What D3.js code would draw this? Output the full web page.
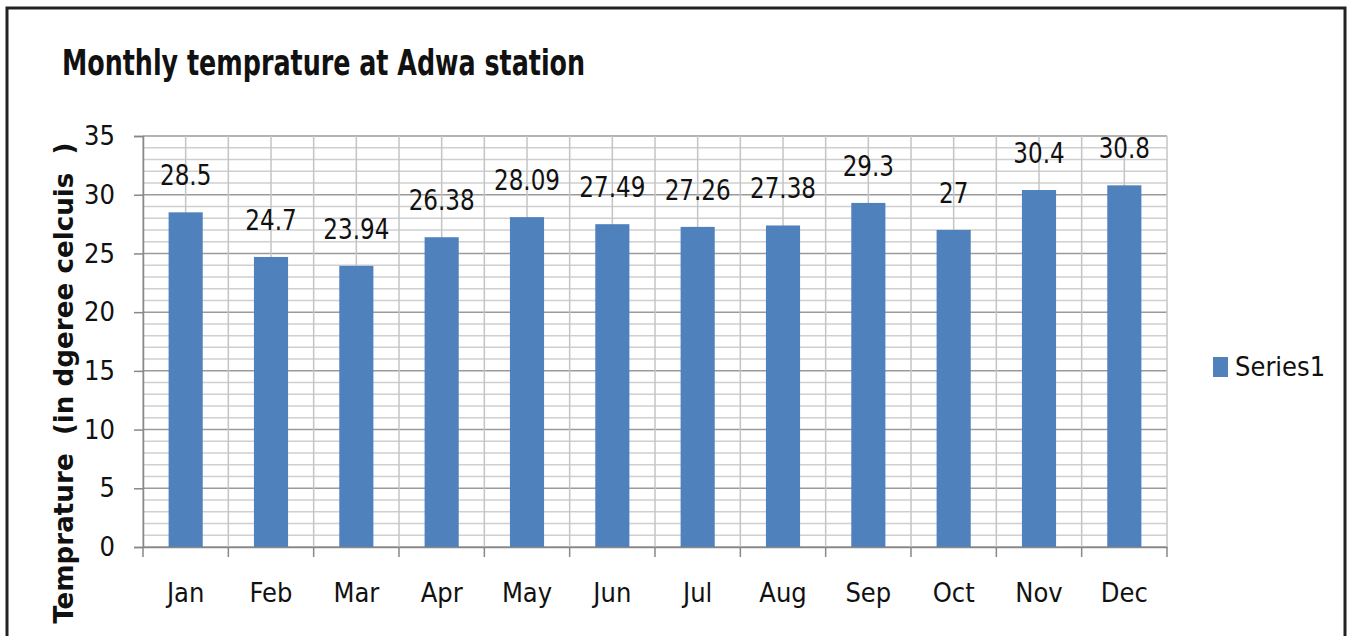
<!DOCTYPE html>
<html>
<head>
<meta charset="utf-8">
<script src="https://cdn.jsdelivr.net/npm/d3@7"></script>
<style>
  body { margin: 0; background: #fff; }
  text { font-family: "Liberation Sans Narrow", "DejaVu Sans Condensed", "Roboto", sans-serif; fill: #111; }
</style>
</head>
<body>
<div id="chart"></div>
<script>
// chart data
const months = ["Jan", "Feb", "Mar", "Apr", "May", "Jun", "Jul", "Aug", "Sep", "Oct", "Nov", "Dec"];
const temps = [28.5, 24.7, 23.94, 26.38, 28.09, 27.49, 27.26, 27.38, 29.3, 27, 30.4, 30.8];
const labels = ["28.5", "24.7", "23.94", "26.38", "28.09", "27.49", "27.26", "27.38", "29.3", "27", "30.4", "30.8"];
const yTicks = [0, 5, 10, 15, 20, 25, 30, 35];
const seriesName = "Series1";

const W = 1349, H = 636;
const margin = { top: 136, right: 182, bottom: 89, left: 143 },
    width = W - margin.left - margin.right,
    height = H - margin.top - margin.bottom;

const root = d3.select("#chart")
    .append("svg")
    .attr("width", W)
    .attr("height", H);

// outer frame
root.append("rect")
    .attr("x", 7).attr("y", 8)
    .attr("width", 1338).attr("height", 640)
    .attr("fill", "none")
    .attr("stroke", "#222")
    .attr("stroke-width", 3);

root.append("text")
    .attr("transform", "translate(62,75) scale(0.91,1.15)")
    .style("font-size", "31px")
    .style("font-weight", "bold")
    .text("Monthly temprature at Adwa station");

const svg = root.append("g")
    .attr("transform", `translate(${margin.left},${margin.top})`);

const x = d3.scaleBand()
    .domain(months)
    .range([0, width]);

const y = d3.scaleLinear()
    .domain([0, 35])
    .range([height, 0]);

// minor horizontal grid, every 1 unit
svg.append("g")
    .selectAll("line")
    .data(d3.range(0, 36))
    .enter().append("line")
    .attr("x1", 0).attr("x2", width)
    .attr("y1", d => y(d)).attr("y2", d => y(d))
    .attr("stroke", d => d % 5 === 0 ? "#9a9a9a" : "#cfcfcf")
    .attr("stroke-width", 1.5);

// vertical grid at category centres and boundaries
const vLines = [];
months.forEach(m => {
    vLines.push(x(m));
    vLines.push(x(m) + x.bandwidth() / 2);
});
vLines.push(width);
svg.append("g")
    .selectAll("line")
    .data(vLines)
    .enter().append("line")
    .attr("x1", d => d).attr("x2", d => d)
    .attr("y1", 0).attr("y2", height)
    .attr("stroke", "#c4c4c4")
    .attr("stroke-width", 1.5);

// bars
const barW = x.bandwidth() * 0.4;
svg.selectAll(".bar")
    .data(temps)
    .enter().append("rect")
    .attr("class", "bar")
    .attr("x", (d, i) => x(months[i]) + x.bandwidth() / 2 - barW / 2)
    .attr("y", d => y(d))
    .attr("width", barW)
    .attr("height", d => height - y(d))
    .attr("fill", "#4f81bd");

// data labels
svg.selectAll(".lbl")
    .data(temps)
    .enter().append("text")
    .attr("class", "lbl")
    .attr("transform", (d, i) => `translate(${x(months[i]) + x.bandwidth() / 2},${y(d) - 27}) scale(0.95,1.08)`)
    .attr("text-anchor", "middle")
    .style("font-size", "27px")
    .text((d, i) => labels[i]);

// y axis
const yAxis = svg.append("g")
    .call(d3.axisLeft(y).tickValues(yTicks).tickSize(9).tickPadding(19));
yAxis.select(".domain").attr("stroke", "#888").attr("stroke-width", 1.5);
yAxis.selectAll(".tick line").attr("stroke", "#888").attr("stroke-width", 1.5);
yAxis.selectAll("text").style("font-size", "27px").attr("fill", "#111");

// x axis
const xAxis = svg.append("g")
    .attr("transform", `translate(0,${height})`)
    .call(d3.axisBottom(x).tickSize(0).tickPadding(36));
xAxis.select(".domain").attr("stroke", "#888").attr("stroke-width", 1.5);
xAxis.selectAll("text").style("font-size", "27px").attr("fill", "#111");
svg.append("g")
    .selectAll("line")
    .data(months.map(m => x(m)).concat([width]))
    .enter().append("line")
    .attr("x1", d => d).attr("x2", d => d)
    .attr("y1", height).attr("y2", height + 10)
    .attr("stroke", "#888")
    .attr("stroke-width", 1.5);

// y label
root.append("text")
    .attr("transform", "translate(73,383) rotate(-90) scale(1.12,1)")
    .attr("text-anchor", "middle")
    .style("font-size", "26px")
    .style("font-weight", "bold")
    .style("white-space", "pre")
    .text("Temprature  (in dgeree celcuis  )");

// legend
const leg = root.append("g").attr("transform", "translate(1213,357)");
leg.append("rect")
    .attr("width", 15).attr("height", 20)
    .attr("fill", "#4f81bd");
leg.append("text")
    .attr("x", 22).attr("y", 19)
    .style("font-size", "27px")
    .text(seriesName);
</script>
</body>
</html>
